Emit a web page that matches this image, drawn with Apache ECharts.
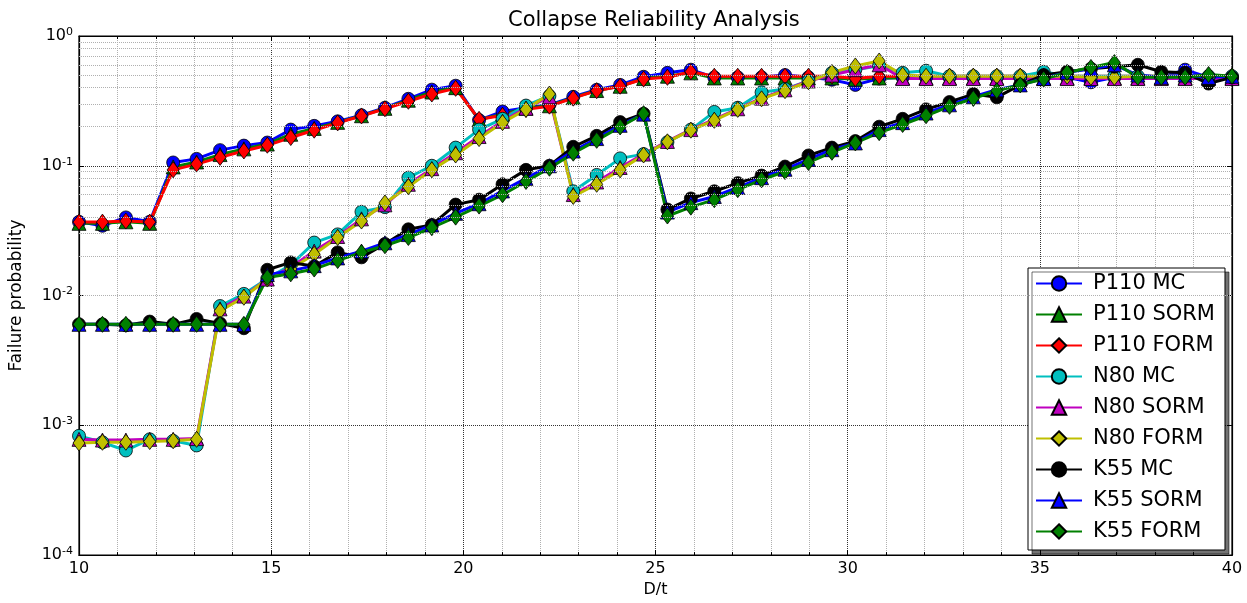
<!DOCTYPE html>
<html>
<head>
<meta charset="utf-8">
<script src="https://cdn.jsdelivr.net/npm/echarts@6/dist/echarts.min.js"></script>
<style>
  html, body { margin: 0; padding: 0; background: #fff; }
  #chart { width: 1247px; height: 603px; }
</style>
</head>
<body>
<div id="chart"></div>
<script>
// D/t values (50 points, 10 .. 40)
const dT = [10.00, 10.61, 11.22, 11.84, 12.45, 13.06, 13.67, 14.29, 14.90, 15.51,
            16.12, 16.73, 17.35, 17.96, 18.57, 19.18, 19.80, 20.41, 21.02, 21.63,
            22.24, 22.86, 23.47, 24.08, 24.69, 25.31, 25.92, 26.53, 27.14, 27.76,
            28.37, 28.98, 29.59, 30.20, 30.82, 31.43, 32.04, 32.65, 33.27, 33.88,
            34.49, 35.10, 35.71, 36.33, 36.94, 37.55, 38.16, 38.78, 39.39, 40.00];

const p110Mc = [0.037, 0.0345, 0.040, 0.037, 0.106, 0.113, 0.132, 0.143, 0.151, 0.190,
                0.203, 0.220, 0.245, 0.280, 0.328, 0.386, 0.414, 0.225, 0.262, 0.280,
                0.295, 0.340, 0.385, 0.420, 0.485, 0.520, 0.550, 0.480, 0.480, 0.480,
                0.500, 0.480, 0.460, 0.420, 0.470, 0.480, 0.480, 0.480, 0.480, 0.480,
                0.480, 0.480, 0.480, 0.440, 0.480, 0.480, 0.480, 0.550, 0.480, 0.470];
const p110Sorm = [0.036, 0.036, 0.037, 0.036, 0.098, 0.107, 0.122, 0.135, 0.147, 0.175,
                  0.194, 0.216, 0.243, 0.277, 0.320, 0.370, 0.400, 0.226, 0.250, 0.277,
                  0.290, 0.335, 0.380, 0.410, 0.470, 0.490, 0.520, 0.475, 0.475, 0.475,
                  0.475, 0.475, 0.475, 0.465, 0.475, 0.475, 0.475, 0.475, 0.475, 0.475,
                  0.475, 0.475, 0.475, 0.475, 0.475, 0.475, 0.475, 0.475, 0.475, 0.475];
const p110Form = [0.0368, 0.0368, 0.0375, 0.0368, 0.093, 0.103, 0.116, 0.130, 0.144, 0.165,
                  0.188, 0.214, 0.242, 0.275, 0.314, 0.357, 0.395, 0.228, 0.244, 0.272,
                  0.288, 0.332, 0.379, 0.410, 0.466, 0.480, 0.530, 0.490, 0.490, 0.490,
                  0.490, 0.490, 0.490, 0.470, 0.490, 0.490, 0.490, 0.490, 0.490, 0.490,
                  0.490, 0.490, 0.490, 0.490, 0.490, 0.490, 0.490, 0.490, 0.490, 0.490];

const n80Mc = [0.00083, 0.00074, 0.00064, 0.00078, 0.00076, 0.00070, 0.0083, 0.0103, 0.0135, 0.0172,
               0.0256, 0.0296, 0.0442, 0.048, 0.081, 0.100, 0.138, 0.190, 0.230, 0.291,
               0.345, 0.0636, 0.085, 0.114, 0.123, 0.152, 0.190, 0.260, 0.280, 0.368,
               0.390, 0.450, 0.520, 0.550, 0.590, 0.520, 0.540, 0.490, 0.490, 0.490,
               0.490, 0.530, 0.490, 0.490, 0.490, 0.490, 0.490, 0.490, 0.490, 0.490];
const n80Sorm = [0.00078, 0.00077, 0.00077, 0.00078, 0.00078, 0.00079, 0.0079, 0.0099, 0.0134, 0.0165,
                 0.0220, 0.0285, 0.039, 0.050, 0.072, 0.095, 0.126, 0.168, 0.220, 0.278,
                 0.340, 0.060, 0.075, 0.097, 0.123, 0.154, 0.190, 0.228, 0.275, 0.332,
                 0.385, 0.450, 0.500, 0.550, 0.600, 0.470, 0.470, 0.470, 0.470, 0.470,
                 0.470, 0.470, 0.470, 0.470, 0.470, 0.470, 0.470, 0.470, 0.470, 0.470];
const n80Form = [0.00073, 0.00074, 0.00074, 0.00075, 0.00076, 0.00078, 0.0076, 0.0097, 0.0134, 0.0160,
                 0.0208, 0.028, 0.0375, 0.0517, 0.069, 0.093, 0.121, 0.162, 0.215, 0.272,
                 0.357, 0.058, 0.072, 0.093, 0.121, 0.153, 0.188, 0.224, 0.272, 0.328,
                 0.379, 0.444, 0.524, 0.588, 0.642, 0.500, 0.490, 0.490, 0.490, 0.490,
                 0.490, 0.490, 0.490, 0.480, 0.480, 0.490, 0.490, 0.490, 0.490, 0.490];

const k55Mc = [0.0060, 0.0060, 0.0059, 0.0063, 0.0060, 0.0066, 0.0061, 0.0056, 0.0158, 0.0180,
               0.0168, 0.0215, 0.0197, 0.0250, 0.0324, 0.0350, 0.0502, 0.0548, 0.072, 0.093,
               0.100, 0.140, 0.170, 0.217, 0.252, 0.046, 0.056, 0.0636, 0.0735, 0.084,
               0.0986, 0.120, 0.138, 0.155, 0.200, 0.230, 0.272, 0.310, 0.357, 0.337,
               0.420, 0.500, 0.530, 0.560, 0.580, 0.600, 0.530, 0.520, 0.430, 0.480];
const k55Sorm = [0.0060, 0.0060, 0.0060, 0.0060, 0.0060, 0.0060, 0.0060, 0.0060, 0.0145, 0.0155,
                 0.0170, 0.0195, 0.0220, 0.0255, 0.0295, 0.0350, 0.0430, 0.0510, 0.064, 0.080,
                 0.100, 0.130, 0.162, 0.205, 0.250, 0.044, 0.052, 0.058, 0.068, 0.081,
                 0.094, 0.112, 0.133, 0.150, 0.190, 0.215, 0.255, 0.295, 0.340, 0.385,
                 0.420, 0.470, 0.525, 0.560, 0.600, 0.500, 0.480, 0.500, 0.480, 0.490];
const k55Form = [0.0060, 0.0060, 0.0060, 0.0060, 0.0060, 0.0060, 0.0060, 0.0060, 0.0138, 0.0147,
                 0.0160, 0.0186, 0.0215, 0.0242, 0.0280, 0.0333, 0.0402, 0.0489, 0.0598, 0.0757,
                 0.0957, 0.125, 0.157, 0.199, 0.252, 0.041, 0.048, 0.0548, 0.0654, 0.078,
                 0.0903, 0.106, 0.127, 0.150, 0.180, 0.208, 0.243, 0.287, 0.330, 0.379,
                 0.420, 0.466, 0.524, 0.572, 0.624, 0.480, 0.480, 0.480, 0.505, 0.490];

const seriesNames = ['P110 MC', 'P110 SORM', 'P110 FORM',
                     'N80 MC', 'N80 SORM', 'N80 FORM',
                     'K55 MC', 'K55 SORM', 'K55 FORM'];

let chart = echarts.init(document.getElementById('chart'), null, { renderer: 'canvas' });

let mkSeries = (name, ys, color, symbol, size) => {
    return {
        name: name,
        type: 'line',
        data: dT.map((x, i) => [x, ys[i]]),
        symbol: symbol,
        symbolSize: size,
        showSymbol: true,
        showAllSymbol: true,
        lineStyle: { color: color, width: 3 },
        itemStyle: { color: color, borderColor: '#000', borderWidth: 0.8 },
        emphasis: { disabled: true },
        animation: false
    };
};

const circ = 13, tri = 14, dia = [12, 16];

let series = [
    mkSeries('P110 MC', p110Mc, '#0000ff', 'circle', circ),
    mkSeries('P110 SORM', p110Sorm, '#008000', 'triangle', tri),
    mkSeries('P110 FORM', p110Form, '#ff0000', 'diamond', dia),
    mkSeries('N80 MC', n80Mc, '#00bfbf', 'circle', circ),
    mkSeries('N80 SORM', n80Sorm, '#bf00bf', 'triangle', tri),
    mkSeries('N80 FORM', n80Form, '#bfbf00', 'diamond', dia),
    mkSeries('K55 MC', k55Mc, '#000000', 'circle', circ),
    mkSeries('K55 SORM', k55Sorm, '#0000ff', 'triangle', tri),
    mkSeries('K55 FORM', k55Form, '#008000', 'diamond', dia)
];

// minor log gridlines (2..9 x 10^k)
let minorVals = [];
for (let e = -4; e < 0; e++) {
    for (let m = 2; m <= 9; m++) minorVals.push(m * Math.pow(10, e));
}
series.unshift({
    name: '_minor',
    type: 'line',
    data: [],
    silent: true,
    animation: false,
    markLine: {
        silent: true,
        symbol: 'none',
        animation: false,
        label: { show: false },
        lineStyle: { color: '#b0b0b0', type: 'dotted', width: 1 },
        data: minorVals.map((v) => ({ yAxis: v }))
    }
});

let supLabel = (v) => {
    let e = Math.round(Math.log10(v));
    return '10{s|' + e + '}';
};

chart.setOption({
    animation: false,
    textStyle: { fontFamily: 'DejaVu Sans', color: '#000' },
    title: {
        text: 'Collapse Reliability Analysis',
        left: 503,
        top: 5,
        textStyle: { fontFamily: 'DejaVu Sans', fontSize: 21, fontWeight: 'normal', color: '#000' }
    },
    grid: {
        left: 79,
        right: 15,
        top: 36,
        bottom: 42,
        show: true,
        backgroundColor: '#fff',
        borderColor: '#000',
        borderWidth: 1.2
    },
    legend: {
        data: seriesNames,
        orient: 'vertical',
        left: 1028,
        top: 268,
        itemWidth: 46,
        itemHeight: 18,
        itemGap: 10,
        padding: [5, 10, 8, 7],
        backgroundColor: '#fff',
        borderColor: '#000',
        borderWidth: 1,
        shadowColor: 'rgba(0,0,0,0.55)',
        shadowOffsetX: 4,
        shadowOffsetY: 4,
        shadowBlur: 0,
        textStyle: { fontFamily: 'DejaVu Sans', fontSize: 21, color: '#000', padding: [0, 0, 0, 6] }
    },
    xAxis: [
        {
            type: 'value',
            min: 10,
            max: 40,
            interval: 5,
            name: 'D/t',
            nameLocation: 'middle',
            nameGap: 26,
            nameTextStyle: { fontFamily: 'DejaVu Sans', fontSize: 16, color: '#000' },
            axisLine: { lineStyle: { color: '#000', width: 1.2 } },
            axisTick: { inside: true, length: 5, lineStyle: { color: '#000' } },
            minorTick: { show: true, splitNumber: 5, length: 3, lineStyle: { color: '#000' } },
            axisLabel: { fontSize: 16, color: '#000', margin: 6 },
            splitLine: { show: true, lineStyle: { color: '#333', type: 'dotted', width: 1 } },
            minorSplitLine: { show: true, lineStyle: { color: '#b0b0b0', type: 'dotted', width: 1 } }
        },
        {
            type: 'value',
            position: 'top',
            min: 10,
            max: 40,
            interval: 5,
            axisLine: { lineStyle: { color: '#000', width: 1.2 } },
            axisTick: { inside: true, length: 5, lineStyle: { color: '#000' } },
            minorTick: { show: true, splitNumber: 5, length: 3, lineStyle: { color: '#000' } },
            axisLabel: { show: false },
            splitLine: { show: false }
        }
    ],
    yAxis: [
        {
            type: 'log',
            logBase: 10,
            min: 1e-4,
            max: 1,
            name: 'Failure probability',
            nameLocation: 'middle',
            nameGap: 54,
            nameTextStyle: { fontFamily: 'DejaVu Sans', fontSize: 17, color: '#000' },
            axisLine: { lineStyle: { color: '#000', width: 1.2 } },
            axisTick: { inside: true, length: 5, lineStyle: { color: '#000' } },
            axisLabel: {
                color: '#000',
                margin: 6,
                formatter: supLabel,
                rich: {
                    s: { fontSize: 11, verticalAlign: 'top', padding: [0, 0, 8, 0] }
                },
                fontSize: 16
            },
            splitLine: { show: true, lineStyle: { color: '#333', type: 'dotted', width: 1 } }
        },
        {
            type: 'log',
            logBase: 10,
            min: 1e-4,
            max: 1,
            position: 'right',
            axisLine: { lineStyle: { color: '#000', width: 1.2 } },
            axisTick: { inside: true, length: 5, lineStyle: { color: '#000' } },
            axisLabel: { show: false },
            splitLine: { show: false }
        }
    ],
    series: series
});
</script>
</body>
</html>
